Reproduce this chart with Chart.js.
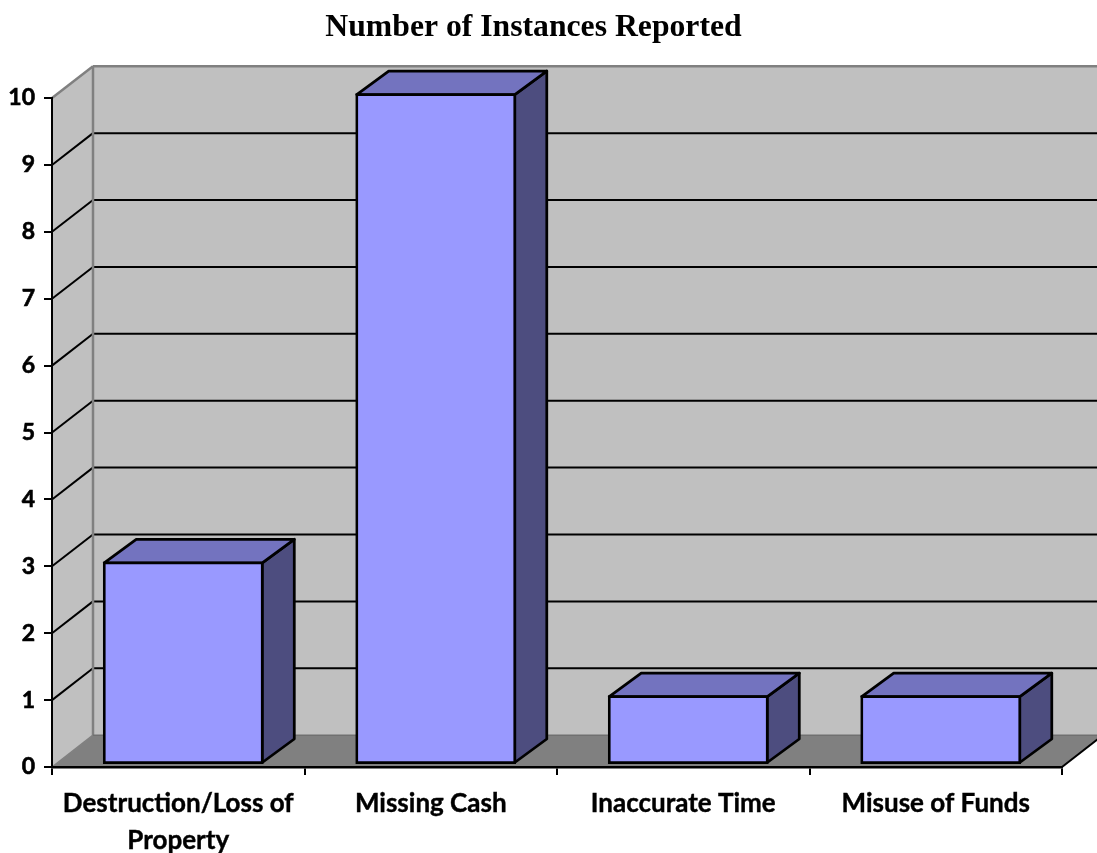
<!DOCTYPE html>
<html>
<head>
<meta charset="utf-8">
<style>
  html, body { margin: 0; padding: 0; background: #fff; }
  canvas { display: block; }
</style>
<script src="https://cdn.jsdelivr.net/npm/chart.js@4"></script>
</head>
<body>
<canvas id="chart" width="1097" height="853"></canvas>
<script>
const categories = [['Destruction/Loss of', 'Property'], 'Missing Cash', 'Inaccurate Time', 'Misuse of Funds'];
const instances = [3, 10, 1, 1];
const yTicks = [0, 1, 2, 3, 4, 5, 6, 7, 8, 9, 10];

// depth of the fake 3D box, and of each bar inside it
const wallDx = 41, wallDy = 31.8;
const barShiftX = 5, barShiftY = -3.5;
const barDx = 32, barDy = 23.5;
const barLine = 2.75;

function poly(ctx, pts, fill, stroke, width) {
    ctx.beginPath();
    pts.forEach((p, i) => i ? ctx.lineTo(p[0], p[1]) : ctx.moveTo(p[0], p[1]));
    ctx.closePath();
    if (fill) { ctx.fillStyle = fill; ctx.fill(); }
    if (stroke) { ctx.strokeStyle = stroke; ctx.lineWidth = width; ctx.stroke(); }
}

function line(ctx, x1, y1, x2, y2, color, width) {
    ctx.beginPath();
    ctx.moveTo(x1, y1);
    ctx.lineTo(x2, y2);
    ctx.strokeStyle = color;
    ctx.lineWidth = width;
    ctx.stroke();
}

const box3d = {
    id: 'box3d',
    // walls, floor and gridlines go under the axes
    beforeDraw(chart) {
        const ctx = chart.ctx, y = chart.scales.y, a = chart.chartArea;
        const l = a.left, r = a.right, t = a.top, b = a.bottom;
        ctx.save();
        poly(ctx, [[l + wallDx, t - wallDy], [r + wallDx, t - wallDy], [r + wallDx, b - wallDy], [l + wallDx, b - wallDy]], '#c0c0c0');
        poly(ctx, [[l, b], [l + wallDx, b - wallDy], [l + wallDx, t - wallDy], [l, t]], '#c0c0c0');
        poly(ctx, [[l, b], [l + wallDx, b - wallDy], [r + wallDx, b - wallDy], [r, b]], '#808080');
        yTicks.slice(1, -1).forEach(v => {
            const py = y.getPixelForValue(v);
            line(ctx, l, py, l + wallDx, py - wallDy, '#000', 2);
            line(ctx, l + wallDx, py - wallDy, r + wallDx, py - wallDy, '#000', 2);
        });
        line(ctx, l, t, l + wallDx, t - wallDy, '#808080', 2.5);
        line(ctx, l + wallDx, t - wallDy, r + wallDx, t - wallDy, '#808080', 2.5);
        line(ctx, l + wallDx, t - wallDy, l + wallDx, b - wallDy, '#808080', 2.5);
        line(ctx, l, b, l + wallDx, b - wallDy, '#808080', 1.5);
        line(ctx, l + wallDx, b - wallDy, r + wallDx, b - wallDy, '#707070', 1.5);
        line(ctx, r, b, r + wallDx, b - wallDy, '#000', 2);
        ctx.restore();
    },
    // top and side faces first, then the real bars get pushed back a little
    beforeDatasetsDraw(chart) {
        const ctx = chart.ctx;
        ctx.save();
        ctx.lineJoin = 'round';
        chart.getDatasetMeta(0).data.forEach(bar => {
            const left = bar.x - bar.width / 2 + barShiftX, right = left + bar.width;
            const top = bar.y + barShiftY, bottom = bar.base + barShiftY;
            poly(ctx, [[right, top], [right + barDx, top - barDy], [right + barDx, bottom - barDy], [right, bottom]], '#4d4d7f', '#000', barLine);
            poly(ctx, [[left, top], [left + barDx, top - barDy], [right + barDx, top - barDy], [right, top]], '#7373bf', '#000', barLine);
        });
        ctx.restore();
        ctx.save();
        ctx.translate(barShiftX, barShiftY);
    },
    afterDatasetsDraw(chart) {
        chart.ctx.restore();
    }
};

new Chart(document.getElementById('chart'), {
    type: 'bar',
    plugins: [box3d],
    data: {
        labels: categories,
        datasets: [{
            data: instances,
            backgroundColor: '#9999ff',
            borderColor: '#000',
            borderWidth: barLine,
            borderSkipped: false,
            inflateAmount: barLine / 2,
            barPercentage: 0.626,
            categoryPercentage: 1,
            clip: false
        }]
    },
    options: {
        responsive: false,
        animation: false,
        layout: { padding: { left: 5, right: 35, top: 0, bottom: 0 } },
        plugins: {
            legend: { display: false },
            tooltip: { enabled: false },
            title: {
                display: true,
                text: 'Number of Instances Reported',
                color: '#000',
                font: { family: '"Liberation Serif"', size: 31.7, weight: 'bold', lineHeight: 1.2 },
                padding: { top: 9, bottom: 51 }
            }
        },
        scales: {
            x: {
                afterFit(scale) { scale.height = 86; },
                border: { color: '#000', width: 2.5 },
                grid: { drawOnChartArea: false, drawTicks: true, tickLength: 8, color: '#000', lineWidth: 2 },
                ticks: {
                    color: '#000',
                    maxRotation: 0,
                    autoSkip: false,
                    padding: 10,
                    textStrokeColor: '#000',
                    textStrokeWidth: 0.4,
                    font: { family: 'Lato', size: 26, weight: 'bold', lineHeight: 1.42 }
                }
            },
            y: {
                min: 0,
                max: 10,
                afterFit(scale) { scale.width = 47; },
                afterBuildTicks(scale) { scale.ticks = yTicks.map(v => ({ value: v })); },
                border: { color: '#000', width: 2 },
                grid: { drawOnChartArea: false, drawTicks: true, tickLength: 8, color: '#000', lineWidth: 2 },
                ticks: {
                    color: '#000',
                    padding: 9,
                    textStrokeColor: '#000',
                    textStrokeWidth: 0.6,
                    font: { family: 'Lato', size: 23, weight: 'bold' }
                }
            }
        }
    }
});
</script>
</body>
</html>
